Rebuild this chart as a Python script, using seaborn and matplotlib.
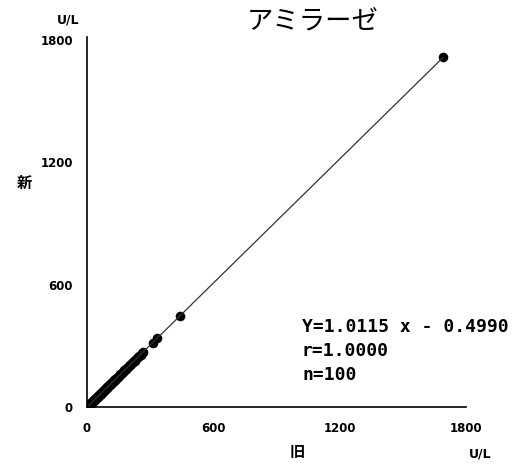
import seaborn as sns
import matplotlib.pyplot as plt
import pandas as pd

# Datos: valores viejos (旧) y nuevos (新) de amilasa, U/L
viejo = [8, 10, 12, 14, 15, 17, 18, 20, 21, 23,
         25, 26, 28, 30, 31, 33, 35, 36, 38, 40,
         42, 44, 46, 48, 50, 52, 54, 56, 58, 60,
         62, 64, 66, 68, 70, 72, 74, 77, 79, 81,
         84, 86, 89, 91, 94, 96, 99, 102, 105, 108,
         111, 114, 117, 120, 123, 126, 129, 132, 135, 138,
         141, 145, 148, 152, 155, 159, 162, 166, 170, 174,
         178, 182, 186, 190, 194, 198, 202, 206, 210, 214,
         218, 222, 226, 230, 236, 242, 248, 255, 262, 268,
         16, 34, 65, 97, 133, 187, 312, 333, 441, 1690]
nuevo = [7.6, 9.9, 11.8, 13.6, 14.9, 16.9, 17.6, 20.0, 20.9, 22.8,
         25.1, 25.8, 27.9, 29.8, 31.0, 32.9, 35.1, 35.9, 38.0, 40.1,
         42.0, 44.1, 46.3, 48.0, 50.2, 52.1, 54.0, 56.3, 58.4, 60.1,
         62.3, 64.5, 66.2, 68.4, 70.3, 72.5, 74.6, 77.4, 79.5, 81.6,
         84.5, 86.6, 89.4, 91.7, 94.5, 96.6, 99.8, 102.7, 105.6, 108.8,
         111.6, 114.8, 117.9, 120.8, 124.0, 126.9, 130.1, 133.0, 136.2, 139.1,
         142.2, 146.3, 149.2, 153.3, 156.4, 160.3, 163.5, 167.4, 171.6, 175.5,
         179.7, 183.6, 187.8, 191.7, 195.8, 199.9, 203.9, 208.2, 212.0, 216.1,
         220.0, 224.3, 228.1, 232.2, 238.3, 244.4, 250.3, 257.5, 264.6, 270.7,
         15.7, 33.9, 65.2, 97.6, 134.1, 188.6, 314.8, 336.4, 445.6, 1715.0]
ticks = [0, 600, 1200, 1800]
titulo = "アミラーゼ"
etiqueta_x = "旧"
etiqueta_y = "新"
unidad = "U/L"
lineas_eq = ["Y=1.0115 x - 0.4990", "r=1.0000", "n=100"]

df = pd.DataFrame({"viejo": viejo, "nuevo": nuevo})

sns.set_theme(style="white")
plt.rcParams['font.family'] = ['DejaVu Sans', 'Noto Sans CJK JP']
plt.rcParams['text.color'] = 'black'
plt.rcParams['xtick.color'] = 'black'
plt.rcParams['ytick.color'] = 'black'

fig = plt.figure(figsize=(5.15, 4.72), dpi=100)
ax = fig.add_axes([0.1689, 0.1377, 0.736, 0.7839])

sns.regplot(data=df, x="viejo", y="nuevo", ci=None, ax=ax,
            scatter_kws={"s": 48, "color": "black", "alpha": 1, "linewidths": 0},
            line_kws={"color": "#333333", "lw": 0.9})

ax.set_xlim(0, 1800)
ax.set_ylim(0, 1815)
ax.set_xticks(ticks)
ax.set_yticks(ticks)
ax.set_xticklabels([str(t) for t in ticks], fontweight="bold", fontsize=8.5)
ax.set_yticklabels([str(t) for t in ticks], fontweight="bold", fontsize=8.5)
ax.tick_params(axis="x", length=0, pad=11, labelcolor="black")
ax.tick_params(axis="y", length=0, pad=10, labelcolor="black")
ax.set_xlabel("")
ax.set_ylabel("")
sns.despine(ax=ax)
for s in ["left", "bottom"]:
    ax.spines[s].set_color("black")
    ax.spines[s].set_linewidth(1.2)

# Textos
fig.text(313 / 515, 1 - 21 / 472, titulo, family="Noto Sans CJK JP",
         fontsize=19, ha="center", va="center")
fig.text(24 / 515, 1 - 183 / 472, etiqueta_y, family="Noto Sans CJK JP",
         fontweight="bold", fontsize=11, ha="center", va="center")
fig.text(297 / 515, 1 - 452 / 472, etiqueta_x, family="Noto Sans CJK JP",
         fontweight="bold", fontsize=11, ha="center", va="center")
fig.text(68 / 515, 1 - 20 / 472, unidad, fontweight="bold", fontsize=9,
         ha="center", va="center")
fig.text(480 / 515, 1 - 454 / 472, unidad, fontweight="bold", fontsize=9,
         ha="center", va="center")

for i, linea in enumerate(lineas_eq):
    fig.text(302 / 515, 1 - (327 + 24 * i) / 472, linea,
             family="DejaVu Sans Mono", fontweight="bold", fontsize=13,
             ha="left", va="center")

fig.savefig("out.png", dpi=100)
